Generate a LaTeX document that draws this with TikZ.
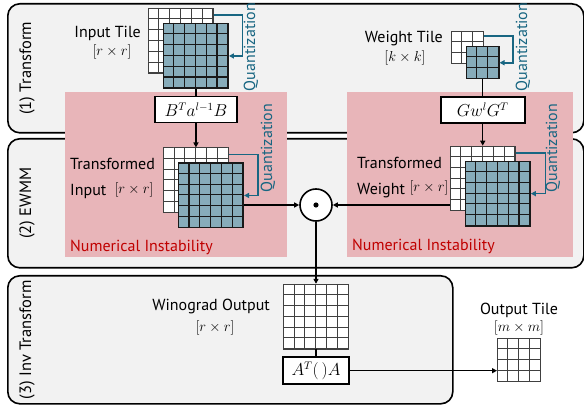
\documentclass[tikz,border=0pt]{standalone}
\usepackage{fontspec}
\setmainfont{PT Sans}
\usetikzlibrary{positioning,calc,arrows.meta}

\definecolor{panelgray}{RGB}{242,242,242}
\definecolor{instpink}{RGB}{232,181,185}
\definecolor{tilefill}{RGB}{135,172,186}
\definecolor{quantblue}{RGB}{24,102,130}
\definecolor{instred}{RGB}{192,0,0}

\tikzset{
  panel/.style={draw, line width=1.6pt, fill=panelgray, rounded corners=12pt, anchor=north west, inner sep=0},
  pinkzone/.style={fill=instpink, anchor=north west, inner sep=0},
  backtile/.style={draw=black!75, fill=white, line width=0.8pt, inner sep=0},
  fronttile/.style={draw=black!90, fill=tilefill, line width=1.1pt, inner sep=0},
  opbox/.style={draw, line width=1.6pt, fill=white, minimum height=26pt, inner sep=2pt},
  lbl/.style={font=\fontsize{16}{18}\selectfont, inner sep=0},
  dims/.style={font=\fontsize{14}{16}\selectfont, inner sep=0},
  stage/.style={lbl, font=\fontsize{16.5}{18}\selectfont, rotate=90},
  quant/.style={draw=quantblue, line width=1.6pt, -{Triangle[length=5pt,width=5pt]}},
  quanttxt/.style={lbl, text=quantblue, rotate=90},
  wire/.style={line width=1.4pt},
  flow/.style={wire, -{Triangle[length=5pt,width=5pt]}},
}

% tile of n x n cells: name, cells, style, placement
\newcommand{\tile}[4]{%
  \node[#3, minimum size=#2*10.8pt, #4] (#1) {};
  \foreach \k in {1,...,#2} {
    \draw[#3] ($(#1.north west)+(\k*10.8,0)$) -- ($(#1.south west)+(\k*10.8,0)$);
    \draw[#3] ($(#1.north west)+(0,\k*10.8)$) -- ($(#1.north east)+(0,\k*10.8)$);
  }}

\begin{document}
\begin{tikzpicture}[x=1pt,y=-1pt]
  \useasboundingbox (0,0) rectangle (584,406);

  % stages
  \node[panel, minimum width=576pt, minimum height=129pt] (p1) at (7,3) {};
  \node[panel, minimum width=576pt, minimum height=129pt] (p2) at (7,138) {};
  \node[panel, minimum width=445pt, minimum height=128pt] (p3) at (7,275) {};
  \node[stage] (s1) at ($(p1.west)+(20,0)$) {(1) Transform};
  \node[stage] (s2) at ($(p2.west)+(20,0)$) {(2) EWMM};
  \node[stage] (s3) at ($(p3.west)+(20,0)$) {(3) Inv Transform};

  % instability zones
  \node[pinkzone, minimum width=222pt, minimum height=165pt] (zoneL) at (65,92) {};
  \node[pinkzone, minimum width=226pt, minimum height=165pt] (zoneR) at (347,92) {};
  \node[lbl, text=instred, anchor=base west] (instL) at ($(zoneL.south west)+(5,-6)$) {Numerical Instability};
  \node[lbl, text=instred, anchor=base west] (instR) at ($(zoneR.south west)+(5,-7)$) {Numerical Instability};

  % input side
  \tile{inback}{6}{backtile}{anchor=north west, at={(148,8)}}
  \tile{infront}{6}{fronttile}{anchor=north west, at={($(inback.north west)+(15,15)$)}}
  \node[lbl, anchor=base east] (inlbl) at (141,38) {Input Tile};
  \node[dims] (insize) at (112,52) {$[r\times r]$};
  \draw[quant] ($(inback.north east)+(0,7)$) -- ++(29,0) |- (infront.east);
  \node[quanttxt] (q1) at (251,47) {Quantization};

  \node[opbox, minimum width=82pt, below=7pt of infront] (bab) {\fontsize{16}{18}\selectfont$B^T a^{l-1} B$};
  \draw[wire] (infront.south) -- (bab.north);

  \tile{tinback}{6}{backtile}{below=24pt of bab}
  \tile{tinfront}{6}{fronttile}{anchor=north west, at={($(tinback.north west)+(15,15)$)}}
  \draw[flow] (bab.south) -- (tinback.north);
  \draw[quant] ($(tinback.north east)+(0,7)$) -- ++(29,0) |- (tinfront.east);
  \node[quanttxt] (q2) at (268,148) {Quantization};
  \node[lbl, anchor=base west] (tinlbl) at (70,170) {Transformed};
  \node[lbl, anchor=base west] (tinlbl2) at (70,196) {Input};
  \node[dims] (tinsize) at (134,190) {$[r\times r]$};

  % weight side
  \tile{wback}{3}{backtile}{anchor=north west, at={(451,31)}}
  \tile{wfront}{3}{fronttile}{anchor=north west, at={($(wback.north west)+(15,15)$)}}
  \node[lbl, anchor=base east] (wlbl) at (443,43) {Weight Tile};
  \node[dims] (wsize) at (405,58) {$[k\times k]$};
  \draw[quant] ($(wback.north east)+(0,5)$) -- ++(29,0) |- (wfront.east);
  \node[quanttxt] (q3) at (523,47) {Quantization};

  \node[opbox, minimum width=84pt, below=16.6pt of wfront] (gwg) {\fontsize{16}{18}\selectfont$G w^l G^T$};
  \draw[wire] (wfront.south) -- (gwg.north);

  \tile{twback}{6}{backtile}{below=22pt of gwg}
  \tile{twfront}{6}{fronttile}{anchor=north west, at={($(twback.north west)+(15,15)$)}}
  \draw[flow] (gwg.south) -- (twback.north);
  \draw[quant] ($(twback.north east)+(0,7.5)$) -- ++(30,0) |- (twfront.east);
  \node[quanttxt] (q4) at (553,148) {Quantization};
  \node[lbl, anchor=base west] (twlbl) at (357,169) {Transformed};
  \node[lbl, anchor=base west] (twlbl2) at (357,195) {Weight};
  \node[dims] (twsize) at (429,188) {$[r\times r]$};

  % element-wise product
  \node[circle, draw, line width=1.6pt, fill=white, minimum size=32pt, inner sep=0] (ewmm) at (316,205) {};
  \fill (ewmm) circle (2.6pt);
  \draw[flow] (tinfront.east |- ewmm) -- (ewmm.west);
  \draw[flow] (twback.west |- ewmm) -- (ewmm.east);

  % inverse transform
  \tile{wino}{6}{backtile}{below=62pt of ewmm}
  \draw[flow] (ewmm.south) -- (wino.north);
  \node[lbl, anchor=base east] (winolbl) at (270,310) {Winograd Output};
  \node[dims] (winosize) at (215,328) {$[r\times r]$};
  \node[opbox, minimum width=66pt, minimum height=27pt, below=7pt of wino] (ata) {\fontsize{16}{18}\selectfont$A^T(\,)A$};
  \draw[wire] (wino.south) -- (ata.north);

  \tile{out}{4}{backtile}{anchor=north west, at={(497,338)}}
  \draw[flow] (ata.east) -- (out.west |- ata.east);
  \node[lbl, anchor=base] (outlbl) at (519,314) {Output Tile};
  \node[dims, below=3pt of outlbl] (outsize) {$[m\times m]$};
\end{tikzpicture}
\end{document}
